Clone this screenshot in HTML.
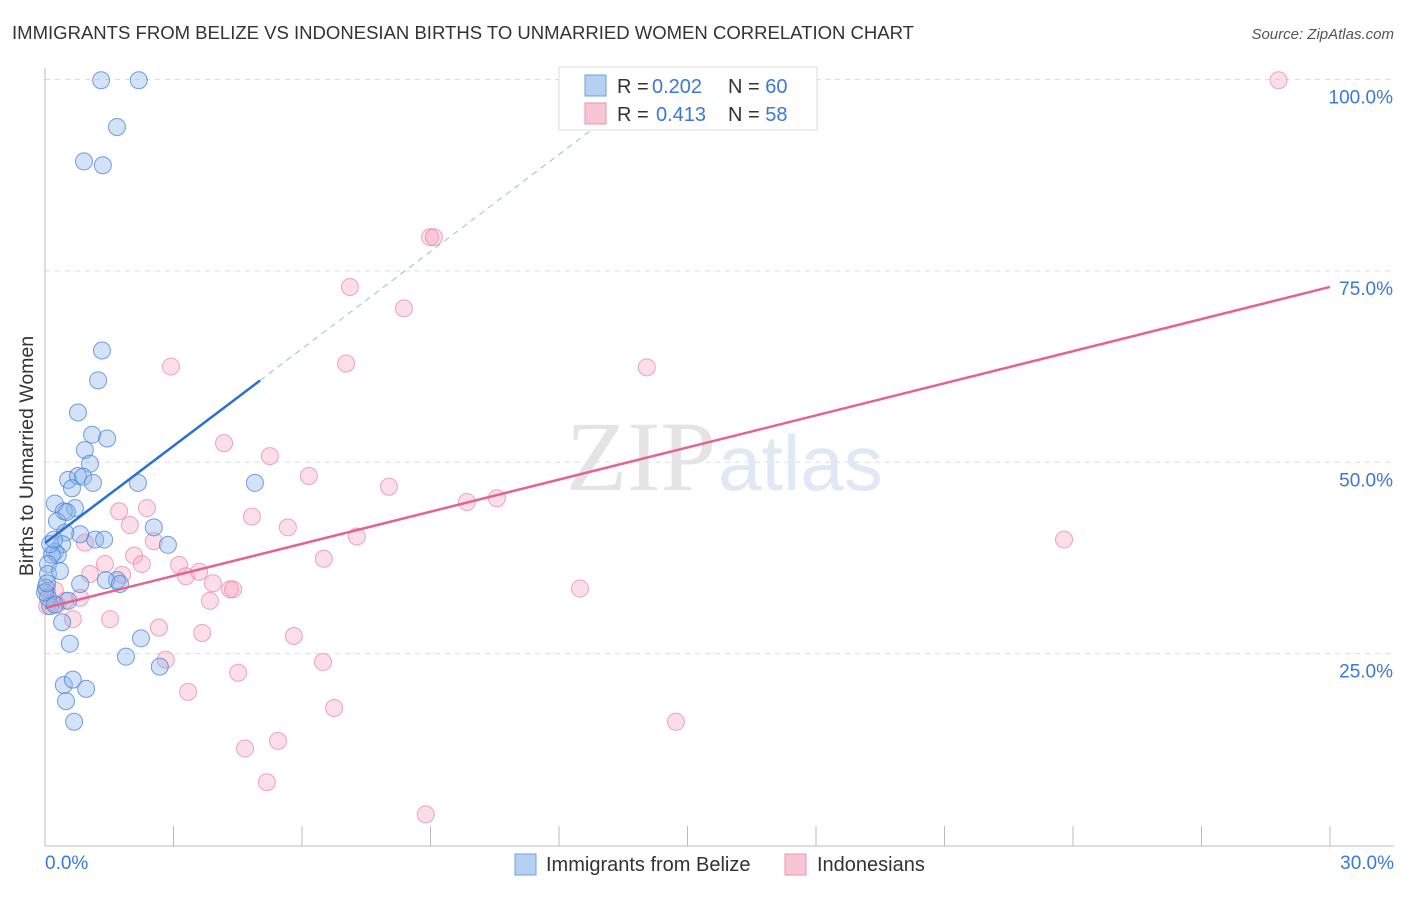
<!DOCTYPE html>
<html><head><meta charset="utf-8"><style>
body{margin:0;background:#fff;font-family:"Liberation Sans",sans-serif}
</style></head><body>
<svg width="1406" height="892" xmlns="http://www.w3.org/2000/svg" style="font-family:'Liberation Sans',sans-serif">
<text x="12" y="39" font-size="18" fill="#333" textLength="902" lengthAdjust="spacingAndGlyphs">IMMIGRANTS FROM BELIZE VS INDONESIAN BIRTHS TO UNMARRIED WOMEN CORRELATION CHART</text>
<text x="1394" y="39" font-size="15" fill="#555" font-style="italic" text-anchor="end">Source: ZipAtlas.com</text>
<g id="grid"></g>
<text x="716" y="490" font-size="100" fill="#e4e4e4" text-anchor="end" font-family="Liberation Serif">ZIP</text>
<text x="718" y="490" font-size="78" fill="#dfe9f5">atlas</text>
<line x1="45" y1="68" x2="45" y2="846" stroke="#bbb"/>
<line x1="45" y1="846" x2="1394" y2="846" stroke="#bbb"/>
<g id="marks"></g>
<text x="33" y="456" font-size="19.5" fill="#333" text-anchor="middle" transform="rotate(-90 33 456)">Births to Unmarried Women</text>
<text x="45" y="869" font-size="19" fill="#3b78d8">0.0%</text>
<text x="1394" y="869" font-size="19" fill="#3b78d8" text-anchor="end">30.0%</text>
<g>
<rect x="559" y="67" width="258" height="63" fill="#fff" stroke="#ddd"/>
<rect x="585" y="75" width="21" height="21" fill="#b6d0f2" stroke="#6f9fe0"/>
<rect x="585" y="103" width="21" height="21" fill="#f8c5d4" stroke="#eb94b0"/>
<text x="617" y="93" font-size="20" fill="#333">R = <tspan fill="#3b78d8" x="652">0.202</tspan><tspan x="728">N = </tspan><tspan fill="#3b78d8">60</tspan></text>
<text x="617" y="121" font-size="20" fill="#333">R = <tspan fill="#3b78d8" x="656">0.413</tspan><tspan x="728">N = </tspan><tspan fill="#3b78d8">58</tspan></text>
</g>
<g>
<rect x="515" y="854" width="21" height="21" fill="#b6d0f2" stroke="#6f9fe0"/>
<text x="546" y="871" font-size="20" fill="#333">Immigrants from Belize</text>
<rect x="785" y="854" width="21" height="21" fill="#f8c5d4" stroke="#eb94b0"/>
<text x="817" y="871" font-size="20" fill="#333">Indonesians</text>
</g>
</svg>
<script>
const yTicks=[25,50,75,100];
const yTickLabels=["25.0%","50.0%","75.0%","100.0%"];
const xTicks=[0,3,6,9,12,15,18,21,24,27,30];
const belizeX=[1.31,2.19,1.68,0.91,1.35,1.33,1.24,0.77,1.10,1.45,0.93,1.05,0.54,0.77,0.89,1.12,2.17,4.90,0.23,0.63,0.70,0.44,0.28,0.51,1.17,1.38,0.82,0.47,0.40,0.23,0.30,0.16,0.07,0.07,0.35,0.02,0.07,0.12,0.54,0.82,1.68,1.42,1.75,2.54,2.87,0.40,0.58,2.24,1.89,2.68,0.44,0.65,0.96,0.49,0.68,0.00,0.12,0.21,0.23,0.05];
const belizeY=[99.9,99.9,93.8,89.3,88.8,64.6,60.7,56.5,53.6,53.1,51.6,49.8,47.7,48.2,48.1,47.3,47.3,47.3,44.6,46.6,44.0,43.6,42.3,43.5,39.9,39.9,40.6,40.8,39.3,38.3,37.9,37.9,36.7,35.4,35.8,33.6,32.3,31.2,31.9,34.1,34.6,34.6,34.1,41.5,39.2,29.1,26.3,27.0,24.6,23.3,20.9,21.6,20.4,18.8,16.1,33.0,39.3,39.9,31.4,34.2];
const indoX=[28.8,8.99,9.08,7.12,8.38,7.03,2.94,14.05,4.18,5.25,6.16,8.03,9.85,10.55,2.38,1.73,4.83,1.98,5.67,7.28,23.79,0.93,2.54,2.08,2.26,3.13,6.51,1.05,1.40,1.80,3.29,3.60,3.92,4.32,4.39,12.49,3.85,0.05,0.23,0.28,0.82,0.47,1.52,0.65,2.66,3.67,5.81,2.82,6.49,3.34,4.51,6.75,14.73,4.67,5.44,5.18,8.89,0.05];
const indoY=[99.9,79.4,79.4,72.9,70.1,62.9,62.5,62.4,52.5,50.8,48.2,46.8,44.8,45.3,44.0,43.6,42.9,41.8,41.5,40.3,39.9,39.5,39.7,37.8,36.7,36.6,37.4,35.4,36.7,35.3,35.1,35.7,34.2,33.4,33.4,33.5,31.9,33.2,33.3,31.4,32.3,31.9,29.5,29.5,28.4,27.7,27.3,24.2,23.9,20.0,22.5,17.9,16.1,12.6,13.6,8.2,4.0,31.2];
const belizeLine=[39.45,4.23];
const belizeSolidEnd=5.02;
const indoLine=[30.96,72.9];
const X=v=>45+v/30*1285, Y=v=>845-v*7.655;
const NS="http://www.w3.org/2000/svg";
const grid=document.getElementById('grid'), marks=document.getElementById('marks');
function mk(tag,at,parent){const e=document.createElementNS(NS,tag);for(const k in at)e.setAttribute(k,at[k]);parent.appendChild(e);return e;}
yTicks.forEach((t,i)=>{
 const l=mk('line',{x1:45,x2:1394,y1:Y(t),y2:Y(t),stroke:'#ddd','stroke-dasharray':'5,5'},grid);
 
 
 const tx=mk('text',{x:1393,y:Y(t)+24,'font-size':19,fill:'#3b78d8','text-anchor':'end'},grid);
 tx.textContent=yTickLabels[i];
 
 
});
xTicks.forEach(t=>{
 const l=mk('line',{x1:X(t),x2:X(t),y1:826,y2:846,stroke:'#bbb'},grid);
 
 
});
indoX.forEach((x,i)=>{
 const c=mk('circle',{cx:X(x),cy:Y(indoY[i]),r:8.5,fill:'rgba(244,160,187,0.35)',stroke:'rgba(232,130,165,0.7)','stroke-width':1},marks);
 
 
});
belizeX.forEach((x,i)=>{
 const c=mk('circle',{cx:X(x),cy:Y(belizeY[i]),r:8.5,fill:'rgba(140,180,235,0.38)',stroke:'rgba(70,130,215,0.75)','stroke-width':1},marks);
 
 
});
const bEnd=(100-belizeLine[0])/belizeLine[1];
const bd=mk('line',{x1:X(belizeSolidEnd),y1:Y(belizeLine[0]+belizeLine[1]*belizeSolidEnd),x2:X(bEnd),y2:Y(100),stroke:'#9bbbe6','stroke-width':1,'stroke-dasharray':'6,5'},marks);


const bl=mk('line',{x1:X(0),y1:Y(belizeLine[0]),x2:X(belizeSolidEnd),y2:Y(belizeLine[0]+belizeLine[1]*belizeSolidEnd),stroke:'#2a6fd4','stroke-width':2.5},marks);


const il=mk('line',{x1:X(0),y1:Y(indoLine[0]),x2:X(30),y2:Y(indoLine[1]),stroke:'#e4648f','stroke-width':2.5},marks);


</script>
</body></html>
